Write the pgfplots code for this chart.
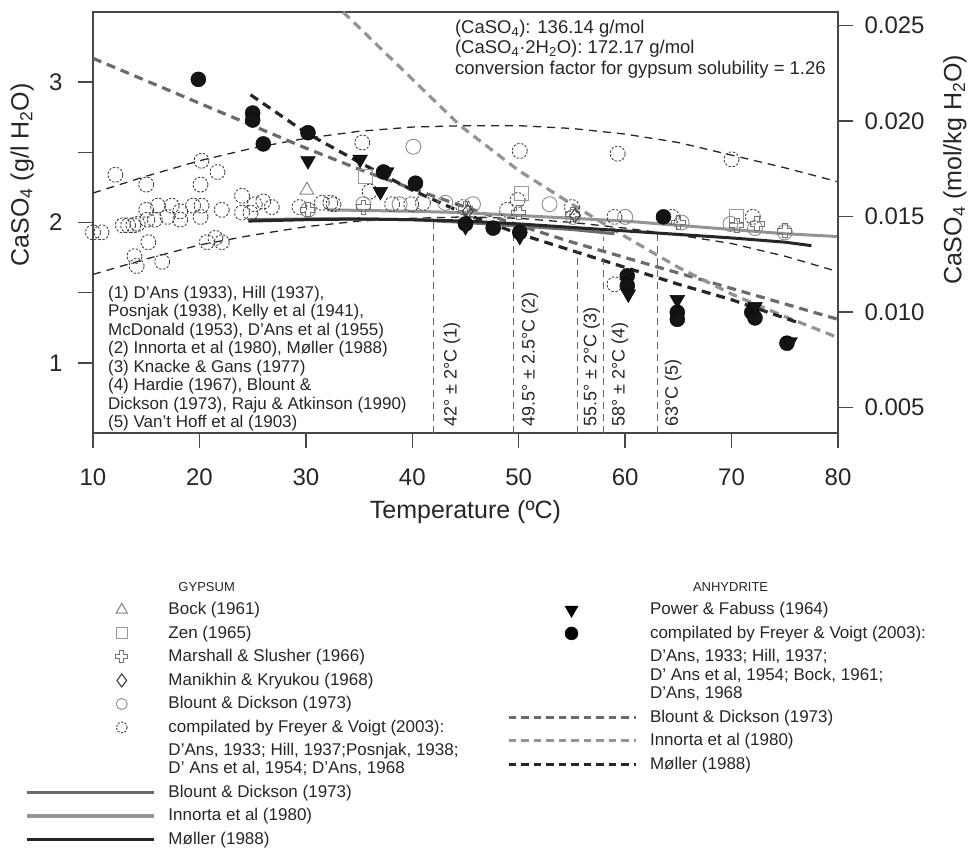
\documentclass[border=0pt]{standalone}
\usepackage{pgfplots}
\pgfplotsset{compat=1.18}
\usepackage{fontspec}
\setmainfont{Liberation Sans}

% outlined cross (Marshall & Slusher)
\pgfdeclareplotmark{ocross}{%
  \pgfpathmoveto{\pgfqpoint{-0.33\pgfplotmarksize}{\pgfplotmarksize}}%
  \pgfpathlineto{\pgfqpoint{0.33\pgfplotmarksize}{\pgfplotmarksize}}%
  \pgfpathlineto{\pgfqpoint{0.33\pgfplotmarksize}{0.33\pgfplotmarksize}}%
  \pgfpathlineto{\pgfqpoint{\pgfplotmarksize}{0.33\pgfplotmarksize}}%
  \pgfpathlineto{\pgfqpoint{\pgfplotmarksize}{-0.33\pgfplotmarksize}}%
  \pgfpathlineto{\pgfqpoint{0.33\pgfplotmarksize}{-0.33\pgfplotmarksize}}%
  \pgfpathlineto{\pgfqpoint{0.33\pgfplotmarksize}{-\pgfplotmarksize}}%
  \pgfpathlineto{\pgfqpoint{-0.33\pgfplotmarksize}{-\pgfplotmarksize}}%
  \pgfpathlineto{\pgfqpoint{-0.33\pgfplotmarksize}{-0.33\pgfplotmarksize}}%
  \pgfpathlineto{\pgfqpoint{-\pgfplotmarksize}{-0.33\pgfplotmarksize}}%
  \pgfpathlineto{\pgfqpoint{-\pgfplotmarksize}{0.33\pgfplotmarksize}}%
  \pgfpathlineto{\pgfqpoint{-0.33\pgfplotmarksize}{0.33\pgfplotmarksize}}%
  \pgfpathclose\pgfusepathqstroke}

\colorlet{axisgray}{black!72}
\colorlet{bdcol}{black!58}
\colorlet{incol}{black!42}
\colorlet{mocol}{black!85}

\pgfplotsset{
  legmarkL/.style={legend image code/.code={\path (0pt,0pt) (140pt,0pt);
      \draw[##1] plot coordinates {(95pt,0pt)};}},
  legmarkR/.style={legend image code/.code={\path (0pt,0pt) (140pt,0pt);
      \draw[##1] plot coordinates {(63pt,0pt)};}},
  legline/.style={legend image code/.code={\path (0pt,0pt) (140pt,0pt);
      \draw[##1] (0pt,0pt) -- (127pt,0pt);}},
  legnone/.style={legend image code/.code={\path (0pt,0pt) (140pt,0pt);}},
  keybox/.style={
    at={(0pt,0pt)}, anchor=south west, scale only axis,
    width=970pt, height=849pt, xmin=0, xmax=970, ymin=0, ymax=849,
    hide axis, legend cell align=left,
    legend style={draw=none, fill=none, inner sep=0pt, outer sep=0pt,
      column sep=0pt, row sep=0pt, text=black!85,
      font=\fontsize{17}{23.5}\selectfont,
      nodes={inner sep=0pt, text height=16.45pt, text depth=7.05pt}}},
  frame/.style={
    at={(93pt,416pt)}, anchor=south west, scale only axis,
    width=745pt, height=421pt, xmin=10, xmax=80,
    axis line style={axisgray, line width=1.4pt},
    tick align=outside, major tick length=15pt,
    tick style={axisgray, line width=1.4pt},
    ticklabel style={font=\fontsize{24}{28}\selectfont, text=black!85},
    label style={font=\fontsize{25}{30}\selectfont, text=black!85},
    /pgf/number format/assume math mode=true},
  gyp/.style={only marks, mark=o, mark size=7.5pt,
    mark options={draw=black!75, line width=0.9pt, dash pattern=on 2.4pt off 1.6pt}},
  gypbd/.style={only marks, mark=o, mark size=7.5pt,
    mark options={draw=black!45, line width=0.9pt}},
  anh/.style={only marks, mark=*, mark size=7.5pt,
    mark options={draw=black, fill=black!92}},
  anhtri/.style={only marks, mark=triangle*, mark size=8.5pt,
    mark options={draw=black, fill=black!92, rotate=180}},
}

\begin{document}
\begin{tikzpicture}
\path[use as bounding box] (0pt,0pt) rectangle (970pt,849pt);

% ---------------- main panel, g/l axis ----------------
\begin{axis}[frame, ymin=0.5, ymax=3.5,
  xtick={10,20,...,80}, xtick pos=bottom,
  ytick={1,1.5,2,2.5,3}, yticklabels={1,,2,,3}, ytick pos=left,
  xticklabel style={yshift=-17pt},
  yticklabel style={xshift=-12pt},
  xlabel={Temperature (ºC)},
  ylabel={CaSO\textsubscript{4} (g/l H\textsubscript{2}O)},
  xlabel style={at={(axis description cs:0.5,-0.1876)}, anchor=center},
  ylabel style={at={(axis description cs:-0.095,0.613)}, anchor=center},
]
% gypsum solubility envelope
\addplot[black!85, line width=1.3pt, dash pattern=on 8pt off 6pt] coordinates {
 (10,2.21) (15,2.33) (20,2.44) (25,2.53) (30,2.60) (35,2.65) (40,2.68) (45,2.69)
 (50,2.69) (55,2.67) (60,2.63) (65,2.57) (70,2.48) (75,2.39) (80,2.29)};
\addplot[black!85, line width=1.3pt, dash pattern=on 8pt off 6pt] coordinates {
 (10,1.63) (15,1.74) (20,1.84) (25,1.91) (30,1.97) (35,2.01) (40,2.03) (45,2.04)
 (50,2.03) (55,2.00) (60,1.96) (65,1.91) (70,1.85) (75,1.76) (80,1.65)};

% anhydrite solubility curves
\addplot[bdcol, line width=3.2pt, dash pattern=on 9pt off 6pt] coordinates {
 (10,3.17) (15,3.01) (20,2.85) (25,2.69) (30,2.53) (35,2.38) (40,2.24) (45,2.11)
 (50,1.98) (55,1.86) (60,1.75) (65,1.64) (70,1.53) (75,1.42) (80,1.31)};
\addplot[incol, line width=3.2pt, dash pattern=on 9pt off 6pt] coordinates {
 (33.5,3.50) (38.8,3.11) (44.5,2.69) (50,2.37) (55,2.13) (60,1.90) (65,1.68)
 (70,1.49) (75,1.33) (80,1.18)};
\addplot[mocol, line width=3.2pt, dash pattern=on 9pt off 6pt] coordinates {
 (24.8,2.91) (30,2.64) (35,2.43) (40,2.23) (45,2.06) (50,1.92) (55,1.80)
 (60,1.68) (65,1.56) (70,1.45) (76.5,1.28)};

% transition temperatures
\addplot[black!60, line width=1.1pt, dash pattern=on 7pt off 5pt] coordinates {(42,0.5) (42,2.00)};
\addplot[black!60, line width=1.1pt, dash pattern=on 7pt off 5pt] coordinates {(49.5,0.5) (49.5,1.91)};
\addplot[black!60, line width=1.1pt, dash pattern=on 7pt off 5pt] coordinates {(55.5,0.5) (55.5,1.80)};
\addplot[black!60, line width=1.1pt, dash pattern=on 7pt off 5pt] coordinates {(58,0.5) (58,1.90)};
\addplot[black!60, line width=1.1pt, dash pattern=on 7pt off 5pt] coordinates {(63,0.5) (63,1.93)};

% gypsum solubility models
\addplot[bdcol, line width=3pt] coordinates {
 (24.6,2.02) (30,2.025) (35,2.025) (40,2.02) (45,2.00) (50,1.975) (55,1.95) (59,1.92)};
\addplot[incol, line width=3pt] coordinates {
 (32,2.09) (40,2.08) (45,2.07) (50,2.05) (55,2.03) (60,2.01) (65,1.98) (70,1.95)
 (75,1.92) (80,1.90)};
\addplot[mocol, line width=3pt] coordinates {
 (24.6,2.01) (30,2.02) (35,2.025) (40,2.02) (45,2.01) (50,1.99) (55,1.965) (60,1.94)
 (65,1.915) (70,1.89) (75,1.86) (77.5,1.835)};

% gypsum data
\addplot[gyp] coordinates {
 (10,1.93) (10.8,1.93) (12.1,2.34) (12.8,1.98) (13.3,1.98) (13.8,1.98) (14.2,1.99)
 (13.9,1.76) (14.1,1.69) (15.0,2.27) (15.0,2.09) (15.1,2.02) (15.2,1.86) (15.8,2.02)
 (16.1,2.12) (16.5,1.72) (17.0,2.04) (17.4,2.12) (18.2,2.08) (18.2,2.02) (19.4,2.12)
 (20.1,2.27) (20.1,2.04) (20.2,2.44) (20.2,2.12) (20.7,1.86) (21.5,1.89) (21.7,2.36)
 (22.1,2.09) (22.1,1.86) (24.0,2.19) (24.0,2.07) (24.8,2.07) (25.2,2.13) (26.0,2.15)
 (26.8,2.11) (29.4,2.11) (31.5,2.14) (32.3,2.14) (32.6,2.13) (35.3,2.57) (36.0,2.22)
 (38.1,2.13) (39.9,2.13) (41.0,2.14) (44.8,2.11) (48.9,2.09) (49.9,2.16) (50.1,2.51)
 (55.0,2.11) (59.3,2.49) (59.0,2.04) (64.4,2.04) (70.0,2.45) (72.0,2.04) (59.0,1.56)};
\addplot[gypbd] coordinates {
 (30.2,2.09) (35.4,2.13) (38.8,2.13) (40.1,2.54) (43.1,2.14) (45.7,2.13) (52.9,2.13)
 (55.1,2.04) (60.0,2.04) (65.3,2.00) (69.9,1.99) (72.2,1.96) (75.0,1.93)};
\addplot[only marks, mark=triangle, mark size=8pt, mark options={draw=black!45, line width=1pt}]
 coordinates {(30.1,2.23)};
\addplot[only marks, mark=square, mark size=7pt, mark options={draw=black!40, line width=1pt}]
 coordinates {(35.6,2.33) (50.3,2.21) (70.5,2.04)};
\addplot[only marks, mark=ocross, mark size=7pt, mark options={draw=black!55, line width=1pt}]
 coordinates {(30.2,2.09) (35.4,2.11) (45.0,2.10) (50.0,2.07) (55.1,2.06) (65.0,2.00)
  (70.5,1.98) (72.4,1.99) (75.0,1.94)};
\addplot[only marks, mark=diamond, mark size=7pt, mark options={draw=black!75, line width=1pt}]
 coordinates {(45.2,2.08) (55.3,2.05)};

% anhydrite data
\addplot[anh] coordinates {
 (19.9,3.02) (25.0,2.78) (25.0,2.73) (26.0,2.56) (30.2,2.64) (37.3,2.36) (40.3,2.28)
 (45.0,1.99) (47.6,1.96) (50.1,1.93) (60.2,1.62) (60.2,1.55) (63.6,2.04) (64.9,1.36)
 (64.9,1.31) (71.9,1.36) (72.2,1.32) (75.2,1.14)};
\addplot[anhtri] coordinates {
 (30.2,2.44) (35.1,2.45) (37.0,2.22) (37.6,2.36) (45.0,1.97) (50.1,1.90) (60.3,1.49)
 (64.9,1.45) (72.2,1.40) (75.5,1.15)};

% notes
\node[anchor=north west, align=left, inner sep=0pt, text=black!85,
  font=\fontsize{18.5}{20.5}\selectfont] at (axis cs:44.0,3.445)
 {(CaSO\textsubscript{4}): 136.14 g/mol\\
  (CaSO\textsubscript{4}·2H\textsubscript{2}O): 172.17 g/mol\\
  conversion factor for gypsum solubility = 1.26};
\node[anchor=north west, align=left, inner sep=0pt, text=black!85,
  font=\fontsize{17}{18.5}\selectfont] at (axis cs:11.4,1.55)
 {(1) D'Ans (1933), Hill (1937),\\
  Posnjak (1938), Kelly et al (1941),\\
  McDonald (1953), D'Ans et al (1955)\\
  (2) Innorta et al (1980), Møller (1988)\\
  (3) Knacke \& Gans (1977)\\
  (4) Hardie (1967), Blount \&\\
  Dickson (1973), Raju \& Atkinson (1990)\\
  (5) Van't Hoff et al (1903)};
\begin{scope}[every node/.style={rotate=90, anchor=west, inner sep=0pt,
  text=black!85, font=\fontsize{18}{20}\selectfont}]
\node at (axis cs:43.73,0.545) {42° ± 2°C (1)};
\node at (axis cs:51.06,0.545) {49.5° ± 2.5°C (2)};
\node at (axis cs:56.86,0.545) {55.5° ± 2°C (3)};
\node at (axis cs:59.52,0.545) {58° ± 2°C (4)};
\node at (axis cs:64.52,0.545) {63°C (5)};
\end{scope}
\end{axis}

% ---------------- mol/kg axis ----------------
\begin{axis}[frame, ymin={0.5/136.14}, ymax={3.5/136.14},
  axis x line=none, axis y line*=right,
  ytick={0.005,0.010,0.015,0.020,0.025}, scaled y ticks=false,
  yticklabel style={xshift=8pt, /pgf/number format/fixed,
    /pgf/number format/fixed zerofill, /pgf/number format/precision=3},
  ylabel={CaSO\textsubscript{4} (mol/kg H\textsubscript{2}O)},
  ylabel style={at={(axis description cs:1.157,0.625)}, anchor=center},
]
\addplot[draw=none] coordinates {(10,0.01)};
\end{axis}

% ---------------- key: gypsum ----------------
\begin{axis}[keybox, legend style={at={(0.02577,0.3231)}, anchor=north west}]
\addlegendimage{legnone}
\addlegendentry{\hspace{10pt}{\fontsize{13}{15}\selectfont GYPSUM}}
\addlegendimage{legmarkL, mark=triangle, mark size=6.5pt, draw=black!50, line width=1pt}
\addlegendentry{Bock (1961)}
\addlegendimage{legmarkL, mark=square, mark size=5.5pt, draw=black!40, line width=1pt}
\addlegendentry{Zen (1965)}
\addlegendimage{legmarkL, mark=ocross, mark size=6pt, draw=black!55, line width=1pt}
\addlegendentry{Marshall \& Slusher (1966)}
\addlegendimage{legmarkL, mark=diamond, mark size=6.5pt, draw=black!80, line width=1pt}
\addlegendentry{Manikhin \& Kryukou (1968)}
\addlegendimage{legmarkL, mark=o, mark size=5.5pt, draw=black!45, line width=0.9pt}
\addlegendentry{Blount \& Dickson (1973)}
\addlegendimage{legmarkL, mark=o, mark size=5.5pt, draw=black!75, line width=0.9pt,
  mark options={dash pattern=on 2pt off 1.5pt}}
\addlegendentry{compilated by Freyer \& Voigt (2003):}
\addlegendimage{legnone}
\addlegendentry[align=left, text height=34.45pt, text depth=7.05pt,
  font=\fontsize{17}{18}\selectfont]
 {D'Ans, 1933; Hill, 1937;Posnjak, 1938;\\D' Ans et al, 1954; D'Ans, 1968}
\addlegendimage{legline, draw=bdcol, line width=3.5pt}
\addlegendentry{Blount \& Dickson (1973)}
\addlegendimage{legline, draw=incol, line width=3.5pt}
\addlegendentry{Innorta et al (1980)}
\addlegendimage{legline, draw=mocol, line width=3.5pt}
\addlegendentry{Møller (1988)}
\end{axis}

% ---------------- key: anhydrite ----------------
\begin{axis}[keybox, legend style={at={(0.5227,0.3231)}, anchor=north west}]
\addlegendimage{legnone}
\addlegendentry{\hspace{43pt}{\fontsize{13}{15}\selectfont ANHYDRITE}}
\addlegendimage{legmarkR, mark=triangle*, mark size=7.5pt, draw=black, fill=black,
  mark options={rotate=180}}
\addlegendentry{Power \& Fabuss (1964)}
\addlegendimage{legmarkR, mark=*, mark size=6.5pt, draw=black, fill=black}
\addlegendentry{compilated by Freyer \& Voigt (2003):}
\addlegendimage{legnone}
\addlegendentry[align=left, text height=53.45pt, text depth=7.05pt,
  font=\fontsize{17}{18.5}\selectfont]
 {D'Ans, 1933; Hill, 1937;\\D' Ans et al, 1954; Bock, 1961;\\D'Ans, 1968}
\addlegendimage{legline, draw=bdcol, line width=3pt, dash pattern=on 7.5pt off 5pt}
\addlegendentry{Blount \& Dickson (1973)}
\addlegendimage{legline, draw=incol, line width=3pt, dash pattern=on 7.5pt off 5pt}
\addlegendentry{Innorta et al (1980)}
\addlegendimage{legline, draw=mocol, line width=3pt, dash pattern=on 7.5pt off 5pt}
\addlegendentry{Møller (1988)}
\end{axis}
\end{tikzpicture}
\end{document}
